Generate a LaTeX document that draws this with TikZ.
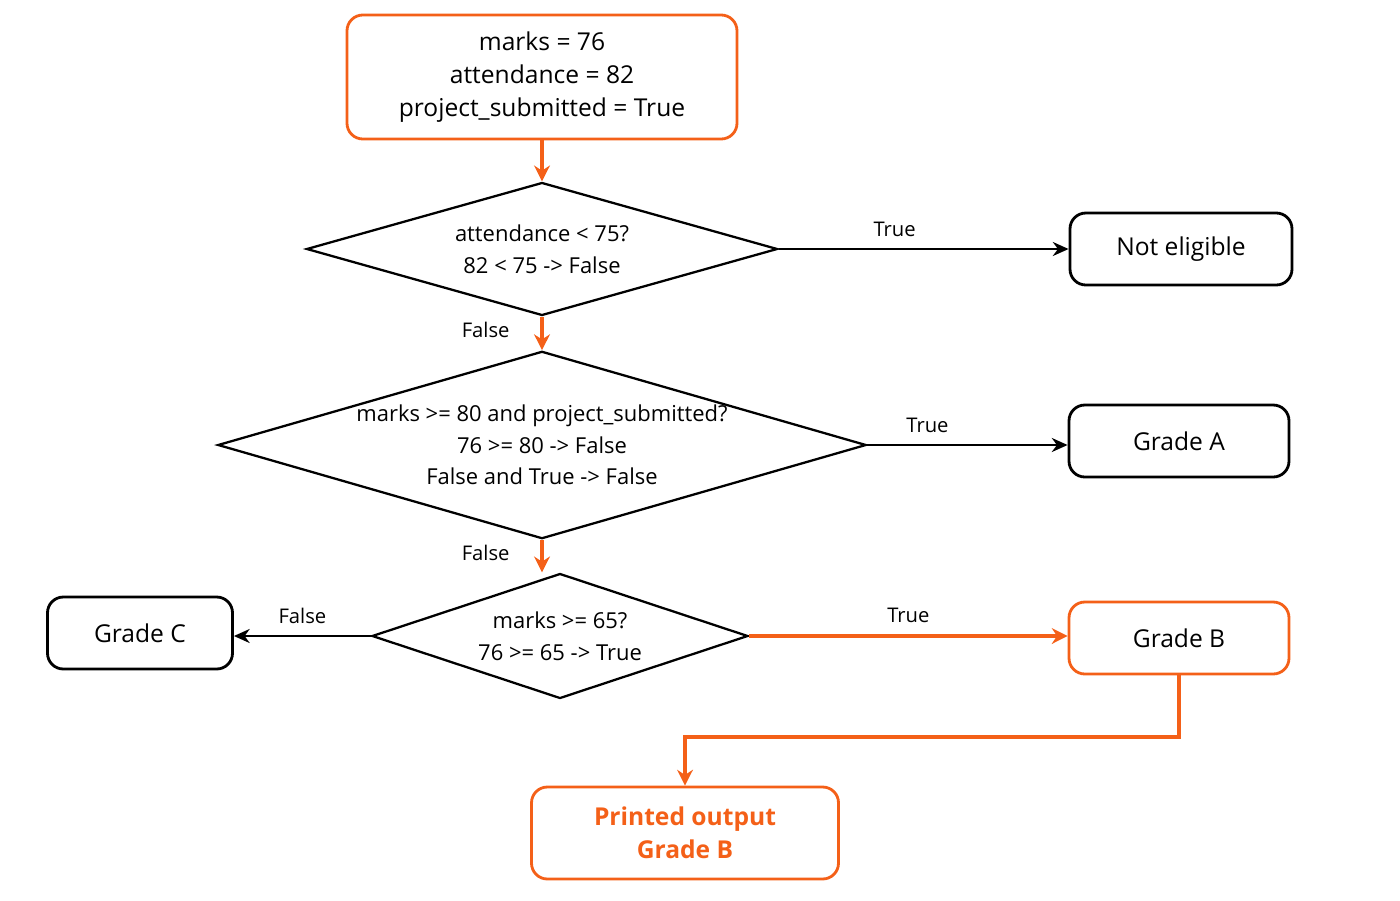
\documentclass[tikz,border=0pt]{standalone}
\usepackage{fontspec}
\setmainfont{Open Sans}
\usetikzlibrary{shapes.geometric,arrows.meta}
\definecolor{hot}{RGB}{244,96,24}
\tikzset{
  box/.style={draw, rounded corners=9pt, line width=1.6pt, align=center, font=\fontsize{14}{19}\selectfont},
  dia/.style={draw, diamond, inner sep=0pt, line width=1.3pt, align=center, font=\fontsize{12.5}{18}\selectfont},
  hotline/.style={draw=hot, line width=2.3pt, -{Stealth[length=9pt,width=9pt]}},
  coldline/.style={line width=1.3pt, -{Stealth[length=9pt,width=8pt]}},
  lab/.style={font=\fontsize{11.5}{14}\selectfont}
}
\begin{document}
\begin{tikzpicture}[x=0.02cm, y=-0.02cm]
  \useasboundingbox (0,0) rectangle (1400,900);

  % nodes
  \node[box, draw=hot, minimum width=390*0.02cm, minimum height=124*0.02cm] (start) at (542,77)
    {marks = 76\\attendance = 82\\project\_submitted = True};
  \node[dia, aspect=3.54, minimum width=471*0.02cm, minimum height=133*0.02cm] (att) at (542,249)
    {attendance < 75?\\82 < 75 -> False};
  \node[box, minimum width=222*0.02cm, minimum height=72*0.02cm] (noel) at (1181,249) {Not eligible};
  \node[dia, aspect=3.46, minimum width=605*0.02cm, minimum height=175*0.02cm] (gra) at (542,445)
    {marks >= 80 and project\_submitted?\\76 >= 80 -> False\\False and True -> False};
  \node[box, minimum width=220*0.02cm, minimum height=72*0.02cm] (ga) at (1179,441) {Grade A};
  \node[dia, aspect=3.0, minimum width=376*0.02cm, minimum height=125*0.02cm] (grb) at (560,636)
    {marks >= 65?\\76 >= 65 -> True};
  \node[box, minimum width=185*0.02cm, minimum height=72*0.02cm] (gc) at (140,633) {Grade C};
  \node[box, draw=hot, minimum width=220*0.02cm, minimum height=72*0.02cm] (gb) at (1179,638) {Grade B};
  \node[box, draw=hot, text=hot, font=\fontsize{14}{19}\selectfont\bfseries,
    minimum width=307*0.02cm, minimum height=92*0.02cm] (out) at (685,833) {Printed output\\Grade B};
  \coordinate (bend) at (685,737);

  % connectors
  \draw[hotline] (start) -- (att);
  \draw[hotline] (att) -- node[lab, left=14pt, text=black, pos=0.4] {False} (gra);
  \draw[hotline] (gra.south) -- node[lab, left=14pt, text=black, pos=0.4] {False} (grb.north -| gra.south);
  \draw[coldline] (att.east) -- node[lab, above=3pt, pos=0.4] {True} (noel.west);
  \draw[coldline] (gra.east) -- node[lab, above=3pt, pos=0.3] {True} (ga.west |- gra.east);
  \draw[hotline] (grb.east) -- node[lab, above=3pt, text=black, pos=0.5] {True} (gb.west |- grb.east);
  \draw[coldline] (grb.west) -- node[lab, above=3pt] {False} (gc.east |- grb.west);
  \draw[hotline] (gb.south) |- (bend) -- (out.north);
\end{tikzpicture}
\end{document}
